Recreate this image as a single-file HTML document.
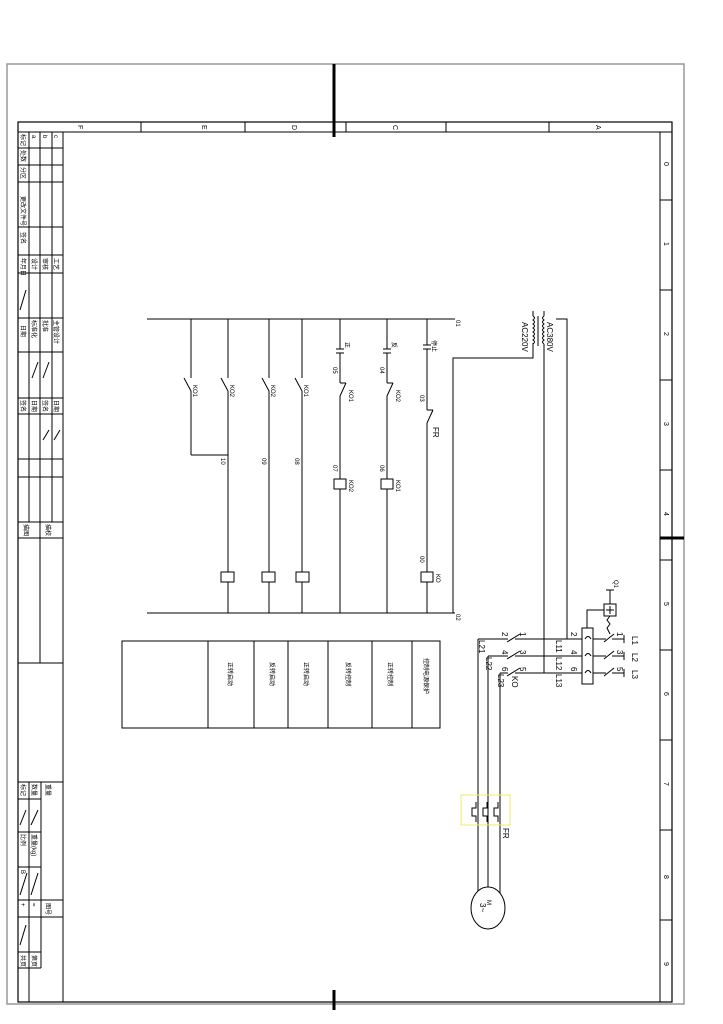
<!DOCTYPE html>
<html><head><meta charset="utf-8"><style>
html,body{margin:0;padding:0;background:#fff;}
svg{display:block;}
text{font-family:"Liberation Sans","Noto Sans CJK SC",sans-serif;fill:#000;}
</style></head><body>
<svg width="723" height="1024" viewBox="0 0 723 1024" xmlns="http://www.w3.org/2000/svg">
<g fill="none" stroke="#000" stroke-width="1">
<rect x="7" y="64" width="677" height="940" stroke="#999" stroke-width="1.5"/>
<rect x="18" y="122" width="654" height="880" stroke-width="1.2"/>
<line x1="18" y1="132" x2="672" y2="132"/>
<line x1="141" y1="122" x2="141" y2="132"/><line x1="245" y1="122" x2="245" y2="132"/>
<line x1="346" y1="122" x2="346" y2="132"/><line x1="446" y1="122" x2="446" y2="132"/>
<line x1="549" y1="122" x2="549" y2="132"/>
<line x1="660" y1="132" x2="660" y2="1002"/>
<line x1="660" y1="200" x2="672" y2="200"/><line x1="660" y1="290" x2="672" y2="290"/>
<line x1="660" y1="380" x2="672" y2="380"/><line x1="660" y1="470" x2="672" y2="470"/>
<line x1="660" y1="560" x2="672" y2="560"/><line x1="660" y1="650" x2="672" y2="650"/>
<line x1="660" y1="740" x2="672" y2="740"/><line x1="660" y1="830" x2="672" y2="830"/>
<line x1="660" y1="920" x2="672" y2="920"/>
<line x1="334" y1="64" x2="334" y2="137" stroke-width="3"/>
<line x1="334" y1="990" x2="334" y2="1010" stroke-width="3"/>
<line x1="660" y1="538" x2="684" y2="538" stroke-width="3"/>
<!-- left title block -->
<line x1="63" y1="132" x2="63" y2="1002"/>
<line x1="29" y1="132" x2="29" y2="522"/><line x1="40" y1="132" x2="40" y2="663"/><line x1="52" y1="132" x2="52" y2="522"/>
<line x1="18" y1="148" x2="63" y2="148"/><line x1="18" y1="165" x2="63" y2="165"/>
<line x1="18" y1="182" x2="63" y2="182"/><line x1="18" y1="227" x2="63" y2="227"/>
<line x1="18" y1="255" x2="63" y2="255"/><line x1="18" y1="273" x2="63" y2="273"/>
<line x1="18" y1="318" x2="63" y2="318"/><line x1="18" y1="352" x2="63" y2="352"/>
<line x1="18" y1="398" x2="63" y2="398"/><line x1="18" y1="414" x2="63" y2="414"/>
<line x1="18" y1="459" x2="63" y2="459"/><line x1="18" y1="477" x2="63" y2="477"/>
<line x1="18" y1="522" x2="63" y2="522"/><line x1="18" y1="538" x2="63" y2="538"/>
<line x1="18" y1="663" x2="63" y2="663"/>
<line x1="29" y1="782" x2="29" y2="1002"/><line x1="41" y1="782" x2="41" y2="968"/>
<line x1="18" y1="782" x2="63" y2="782"/><line x1="18" y1="799" x2="41" y2="799"/>
<line x1="18" y1="832" x2="41" y2="832"/><line x1="18" y1="867" x2="41" y2="867"/>
<line x1="18" y1="900" x2="63" y2="900"/><line x1="18" y1="917" x2="63" y2="917"/>
<line x1="18" y1="952" x2="41" y2="952"/><line x1="18" y1="968" x2="41" y2="968"/>
<line x1="20" y1="310" x2="26" y2="290"/><line x1="32" y1="378" x2="38" y2="362"/>
<line x1="43" y1="378" x2="49" y2="362"/><line x1="43" y1="440" x2="49" y2="430"/>
<line x1="54" y1="440" x2="60" y2="430"/><line x1="20" y1="825" x2="26" y2="810"/>
<line x1="31" y1="825" x2="38" y2="810"/><line x1="20" y1="895" x2="27" y2="873"/>
<line x1="31" y1="895" x2="38" y2="873"/><line x1="20" y1="945" x2="26" y2="925"/>
<!-- control circuit -->
<line x1="147" y1="319" x2="455" y2="319"/>
<line x1="147" y1="613" x2="455" y2="613"/>
<line x1="191" y1="319" x2="191" y2="378"/><line x1="184" y1="378" x2="191" y2="391"/>
<line x1="191" y1="391" x2="191" y2="455"/><line x1="191" y1="455" x2="228" y2="455"/>
<line x1="228" y1="319" x2="228" y2="378"/><line x1="221" y1="378" x2="228" y2="391"/><line x1="228" y1="391" x2="228" y2="613"/>
<line x1="269" y1="319" x2="269" y2="378"/><line x1="262" y1="378" x2="269" y2="391"/><line x1="269" y1="391" x2="269" y2="613"/>
<line x1="302" y1="319" x2="302" y2="378"/><line x1="295" y1="378" x2="302" y2="391"/><line x1="302" y1="391" x2="302" y2="613"/>
<rect x="221" y="572" width="13" height="10" fill="#fff"/>
<rect x="262" y="572" width="13" height="10" fill="#fff"/>
<rect x="296" y="572" width="13" height="10" fill="#fff"/>
<line x1="340" y1="319" x2="340" y2="349"/><line x1="336" y1="349" x2="344" y2="349"/>
<line x1="336" y1="353" x2="344" y2="353"/><line x1="340" y1="353" x2="340" y2="383"/>
<line x1="340" y1="383" x2="346" y2="383"/><line x1="346" y1="383" x2="340" y2="396"/>
<line x1="340" y1="396" x2="340" y2="613"/><rect x="334" y="479" width="12" height="10" fill="#fff"/>
<line x1="387" y1="319" x2="387" y2="349"/><line x1="383" y1="349" x2="391" y2="349"/>
<line x1="383" y1="353" x2="391" y2="353"/><line x1="387" y1="353" x2="387" y2="383"/>
<line x1="387" y1="383" x2="393" y2="383"/><line x1="393" y1="383" x2="387" y2="396"/>
<line x1="387" y1="396" x2="387" y2="613"/><rect x="381" y="479" width="12" height="10" fill="#fff"/>
<line x1="427" y1="319" x2="427" y2="345"/><line x1="423" y1="345" x2="431" y2="345"/>
<line x1="423" y1="349" x2="431" y2="349"/><line x1="427" y1="349" x2="427" y2="410"/>
<line x1="427" y1="410" x2="433" y2="410"/><line x1="433" y1="410" x2="427" y2="423"/>
<line x1="427" y1="423" x2="427" y2="613"/><rect x="421" y="572" width="12" height="10" fill="#fff"/>
<polyline points="453,613 453,358 533,358 533,343"/>
<path d="M533,316 q3,2 0,4 q3,2 0,4 q3,2 0,4 q3,2 0,4 q3,2 0,4 q3,2 0,4 q3,2 0,4"/>
<path d="M544,316 q-3,2 0,4 q-3,2 0,4 q-3,2 0,4 q-3,2 0,4 q-3,2 0,4 q-3,2 0,4 q-3,2 0,4"/>
<line x1="538" y1="316" x2="538" y2="346"/><line x1="533" y1="316" x2="533" y2="311"/>
<line x1="544" y1="344" x2="544" y2="673"/>
<polyline points="544,316 544,311"/>
<polyline points="556,319 567,319 567,639"/>
<!-- table -->
<rect x="122" y="641" width="318" height="87"/>
<line x1="208" y1="641" x2="208" y2="728"/><line x1="254" y1="641" x2="254" y2="728"/>
<line x1="288" y1="641" x2="288" y2="728"/><line x1="328" y1="641" x2="328" y2="728"/>
<line x1="372" y1="641" x2="372" y2="728"/><line x1="412" y1="641" x2="412" y2="728"/>
<!-- power circuit -->
<line x1="478" y1="639" x2="508" y2="639"/><line x1="507" y1="642" x2="520" y2="634"/><line x1="515" y1="639" x2="606" y2="639"/>
<line x1="488" y1="656" x2="508" y2="656"/><line x1="507" y1="659" x2="520" y2="651"/><line x1="515" y1="656" x2="606" y2="656"/>
<line x1="500" y1="673" x2="508" y2="673"/><line x1="507" y1="676" x2="520" y2="668"/><line x1="515" y1="673" x2="606" y2="673"/>
<line x1="604" y1="642" x2="614" y2="634"/><line x1="612" y1="639" x2="624" y2="639"/><line x1="624" y1="635" x2="624" y2="643"/>
<line x1="604" y1="659" x2="614" y2="651"/><line x1="612" y1="656" x2="624" y2="656"/><line x1="624" y1="652" x2="624" y2="660"/>
<line x1="604" y1="676" x2="614" y2="668"/><line x1="612" y1="673" x2="624" y2="673"/><line x1="624" y1="669" x2="624" y2="677"/>
<rect x="582" y="628" width="11" height="56" fill="#fff"/>
<path d="M585,639 q3,-5 6,0 M585,656 q3,-5 6,0 M585,673 q3,-5 6,0"/>
<polyline points="587,628 587,610 604,610"/>
<rect x="604" y="604" width="12" height="12" fill="#fff"/>
<line x1="610" y1="606" x2="610" y2="614"/><line x1="606" y1="610" x2="614" y2="610"/>
<line x1="610" y1="604" x2="610" y2="590"/><line x1="606" y1="590" x2="614" y2="590"/>
<path d="M610,616 l-3,4 l3,4 l-3,4 l3,6"/>
<polyline points="478,639 478,893"/><polyline points="488,656 488,893"/><polyline points="500,673 500,893"/>
<path d="M478,800 v8 h-5 v8 h5 M488,800 v8 h-5 v8 h5 M500,800 v8 h-5 v8 h5" stroke="#fff" stroke-width="0"/>
<path d="M476,802 v6 h-4 v8 h4 v6 M487,802 v6 h-4 v8 h4 v6 M498,802 v6 h-4 v8 h4 v6"/>
<rect x="461" y="795" width="49" height="30" stroke="#ee6" stroke-width="1"/>
<ellipse cx="488" cy="908" rx="17" ry="21" fill="#fff"/>
</g>
<g font-size="7">
<text transform="translate(78,125) rotate(90)">F</text>
<text transform="translate(202,125) rotate(90)">E</text>
<text transform="translate(292,125) rotate(90)">D</text>
<text transform="translate(393,125) rotate(90)">C</text>
<text transform="translate(596,125) rotate(90)">A</text>
<text transform="translate(664,162) rotate(90)">0</text><text transform="translate(664,242) rotate(90)">1</text>
<text transform="translate(664,332) rotate(90)">2</text><text transform="translate(664,422) rotate(90)">3</text>
<text transform="translate(664,512) rotate(90)">4</text><text transform="translate(664,602) rotate(90)">5</text>
<text transform="translate(664,692) rotate(90)">6</text><text transform="translate(664,782) rotate(90)">7</text>
<text transform="translate(664,875) rotate(90)">8</text><text transform="translate(664,962) rotate(90)">9</text>
</g>
<g font-size="6">
<text transform="translate(21,134) rotate(90)">标记</text><text transform="translate(32,135) rotate(90)">a</text>
<text transform="translate(43,135) rotate(90)">b</text><text transform="translate(54,135) rotate(90)">c</text>
<text transform="translate(21,150) rotate(90)">处数</text><text transform="translate(21,167) rotate(90)">分区</text>
<text transform="translate(21,196) rotate(90)">更改文件号</text><text transform="translate(21,232) rotate(90)">签名</text>
<text transform="translate(21,258) rotate(90)">年月日</text><text transform="translate(32,258) rotate(90)">设计</text>
<text transform="translate(43,258) rotate(90)">审核</text><text transform="translate(54,258) rotate(90)">工艺</text>
<text transform="translate(21,325) rotate(90)">日期</text><text transform="translate(32,320) rotate(90)">标准化</text>
<text transform="translate(43,320) rotate(90)">批准</text><text transform="translate(54,320) rotate(90)">主管设计</text>
<text transform="translate(21,400) rotate(90)">签名</text><text transform="translate(32,400) rotate(90)">日期</text>
<text transform="translate(43,400) rotate(90)">签名</text><text transform="translate(54,400) rotate(90)">日期</text>
<text transform="translate(24,524) rotate(90)">描图</text><text transform="translate(46,524) rotate(90)">描校</text>
<text transform="translate(21,784) rotate(90)">标记</text><text transform="translate(32,784) rotate(90)">数量</text>
<text transform="translate(46,784) rotate(90)">重量</text>
<text transform="translate(21,834) rotate(90)">比例</text><text transform="translate(32,834) rotate(90)">重量(kg)</text>
<text transform="translate(21,870) rotate(90)">B</text><text transform="translate(21,903) rotate(90)">+</text>
<text transform="translate(32,903) rotate(90)">=</text><text transform="translate(46,903) rotate(90)">图号</text>
<text transform="translate(21,955) rotate(90)">共页</text><text transform="translate(32,955) rotate(90)">第页</text>
<text transform="translate(228,662) rotate(90)">正转启动</text><text transform="translate(270,662) rotate(90)">反转启动</text>
<text transform="translate(304,662) rotate(90)">正转启动</text><text transform="translate(346,662) rotate(90)">反转控制</text>
<text transform="translate(388,662) rotate(90)">正转控制</text><text transform="translate(424,658) rotate(90)">控制电源保护</text>
<text transform="translate(345,342) rotate(90)">正</text><text transform="translate(392,342) rotate(90)">反</text>
<text transform="translate(432,340) rotate(90)">停止</text>
<text transform="translate(193,385) rotate(90)">KO1</text><text transform="translate(230,385) rotate(90)">KO2</text>
<text transform="translate(271,385) rotate(90)">KO2</text><text transform="translate(304,385) rotate(90)">KO1</text>
<text transform="translate(349,390) rotate(90)">KO1</text><text transform="translate(396,390) rotate(90)">KO2</text>
<text transform="translate(221,458) rotate(90)">10</text><text transform="translate(262,458) rotate(90)">09</text>
<text transform="translate(295,458) rotate(90)">08</text><text transform="translate(333,465) rotate(90)">07</text>
<text transform="translate(380,465) rotate(90)">06</text><text transform="translate(420,556) rotate(90)">00</text>
<text transform="translate(333,367) rotate(90)">05</text><text transform="translate(380,367) rotate(90)">04</text>
<text transform="translate(420,395) rotate(90)">03</text><text transform="translate(456,320) rotate(90)">01</text>
<text transform="translate(456,614) rotate(90)">02</text>
<text transform="translate(349,480) rotate(90)">KO2</text><text transform="translate(396,480) rotate(90)">KO1</text>
<text transform="translate(436,574) rotate(90)">KO</text>
<text transform="translate(614,580) rotate(90)">Q1</text>
<text transform="translate(487,900) rotate(90)">M</text>
</g>
<g font-size="8">
<text transform="translate(433,427) rotate(90)">FR</text>
<text transform="translate(503,828) rotate(90)">FR</text>
<text transform="translate(547,322) rotate(90)">AC380V</text>
<text transform="translate(522,322) rotate(90)">AC220V</text>
<text transform="translate(556,640) rotate(90)">L11</text><text transform="translate(556,657) rotate(90)">L12</text>
<text transform="translate(556,674) rotate(90)">L13</text>
<text transform="translate(479,640) rotate(90)">L21</text><text transform="translate(486,657) rotate(90)">L22</text>
<text transform="translate(498,674) rotate(90)">L23</text>
<text transform="translate(502,632) rotate(90)">2</text><text transform="translate(502,650) rotate(90)">4</text>
<text transform="translate(502,667) rotate(90)">6</text>
<text transform="translate(520,632) rotate(90)">1</text><text transform="translate(520,650) rotate(90)">3</text>
<text transform="translate(520,667) rotate(90)">5</text>
<text transform="translate(571,632) rotate(90)">2</text><text transform="translate(571,650) rotate(90)">4</text>
<text transform="translate(571,667) rotate(90)">6</text>
<text transform="translate(617,632) rotate(90)">1</text><text transform="translate(617,650) rotate(90)">3</text>
<text transform="translate(617,667) rotate(90)">5</text>
<text transform="translate(632,636) rotate(90)">L1</text><text transform="translate(632,653) rotate(90)">L2</text>
<text transform="translate(632,670) rotate(90)">L3</text>
<text transform="translate(512,676) rotate(90)">KO</text>
<text transform="translate(480,903) rotate(90)">3~</text>
</g>
</svg>
</body></html>
